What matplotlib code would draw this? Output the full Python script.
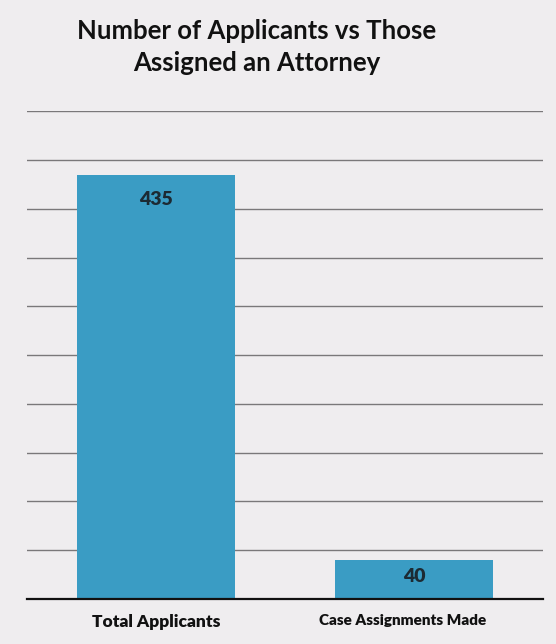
import matplotlib.pyplot as plt
import matplotlib.transforms as mtransforms

# Data
categories = ["Total Applicants", "Case Assignments Made"]
counts = [435, 40]
title = "Number of Applicants vs Those\nAssigned an Attorney"

plt.rcParams['font.family'] = ['Lato', 'DejaVu Sans']

fig = plt.figure(figsize=(5.56, 6.44), dpi=100, facecolor="#efedef")
ax = fig.add_axes([0.0486, 0.0699, 0.9284, 0.757])
ax.set_facecolor("#efedef")

x = range(len(categories))
bars = ax.bar(x, counts, width=0.61, color="#3a9cc4", zorder=3)

ax.set_xlim(-0.5, 1.5)
ax.set_ylim(0, 500)
ax.set_yticks(range(0, 501, 50))
ax.yaxis.grid(True, color="#7a787a", linewidth=1.0, zorder=0)
ax.tick_params(axis="y", length=0, labelleft=False)
ax.tick_params(axis="x", length=0, pad=11)
ax.set_xticks(list(x))
labels = ax.set_xticklabels(categories, fontweight="heavy", color="#111111")
# the second label is squeezed and sits a bit left in the original
labels[0].set_fontsize(12.5)
labels[1].set_fontsize(11)
shift = mtransforms.ScaledTranslation(-12 / 100, 0, fig.dpi_scale_trans)
labels[1].set_transform(labels[1].get_transform() + shift)

for s in ["top", "right", "left"]:
    ax.spines[s].set_visible(False)
ax.spines["bottom"].set_color("#111111")
ax.spines["bottom"].set_linewidth(1.6)
ax.spines["bottom"].set_zorder(4)

# value labels
ax.text(0, counts[0] - 25, str(counts[0]), ha="center", va="center",
        fontsize=14, fontweight="heavy", color="#1c2a33", zorder=5)
ax.text(1, counts[1] / 2 + 3, str(counts[1]), ha="center", va="center",
        fontsize=14, fontweight="heavy", color="#1c2a33", zorder=5)

fig.text(0.462, 0.927, title, ha="center", va="center", fontsize=18.5,
         fontweight="bold", color="#111111", linespacing=1.42)

fig.savefig("out.png", dpi=100, facecolor=fig.get_facecolor())
